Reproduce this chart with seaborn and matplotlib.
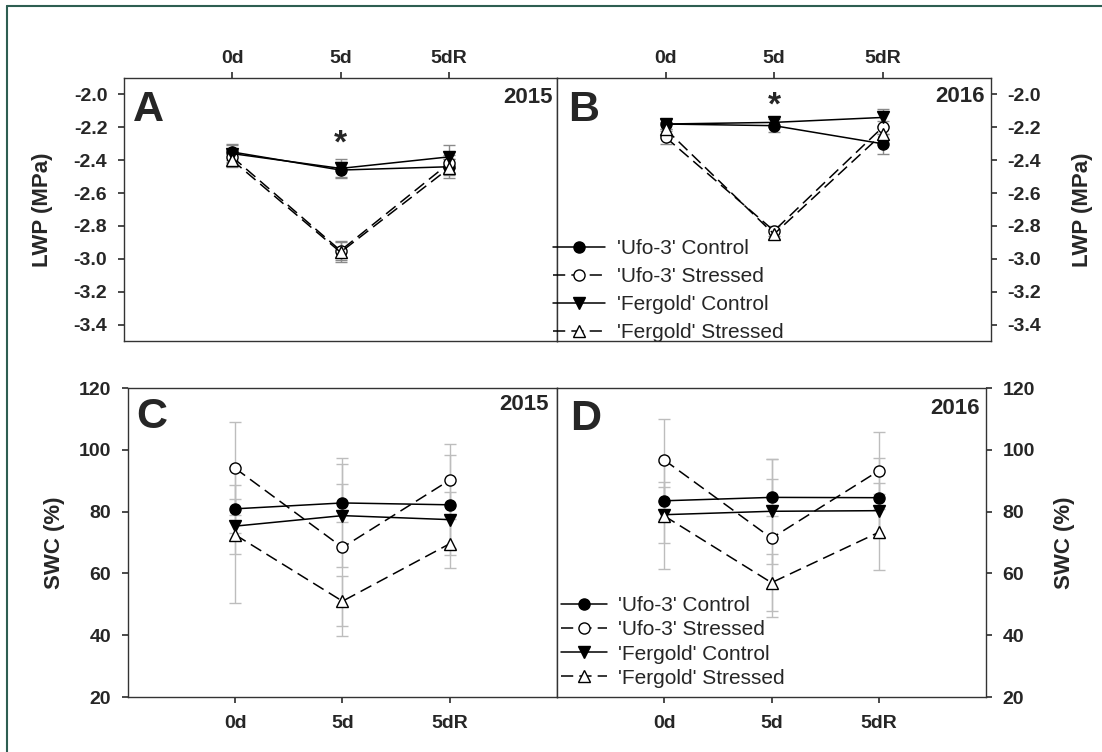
import numpy as np
import pandas as pd
import matplotlib
matplotlib.use("Agg")
import matplotlib.pyplot as plt
import seaborn as sns

# DATA
days = ["0d", "5d", "5dR"]
groups = ["'Ufo-3' Control", "'Ufo-3' Stressed", "'Fergold' Control", "'Fergold' Stressed"]

# leaf water potential (MPa)
lwp15_ufo_ctrl = [-2.35, -2.46, -2.44]
lwp15_ufo_str = [-2.38, -2.95, -2.42]
lwp15_fer_ctrl = [-2.36, -2.45, -2.38]
lwp15_fer_str = [-2.40, -2.96, -2.45]
lwp15_err = [[0.05, 0.05, 0.05], [0.04, 0.06, 0.05], [0.05, 0.055, 0.07], [0.04, 0.06, 0.06]]

lwp16_ufo_ctrl = [-2.18, -2.19, -2.30]
lwp16_ufo_str = [-2.26, -2.83, -2.20]
lwp16_fer_ctrl = [-2.18, -2.17, -2.14]
lwp16_fer_str = [-2.21, -2.85, -2.24]
lwp16_err = [[0.03, 0.04, 0.06], [0.04, 0.03, 0.04], [0.03, 0.03, 0.05], [0.04, 0.03, 0.04]]

# soil water content (%)
swc15_ufo_ctrl = [80.9, 82.8, 82.2]
swc15_ufo_str = [94.0, 68.4, 90.2]
swc15_fer_ctrl = [75.3, 78.7, 77.4]
swc15_fer_str = [72.5, 51.0, 69.6]
swc15_err = [[7.7, 6.1, 16.1], [15.0, 28.8, 11.6], [8.9, 16.7, 9.1], [22.0, 8.1, 8.0]]

swc16_ufo_ctrl = [83.5, 84.6, 84.5]
swc16_ufo_str = [96.7, 71.4, 93.2]
swc16_fer_ctrl = [79.0, 80.1, 80.3]
swc16_fer_str = [78.6, 57.0, 73.3]
swc16_err = [[6.0, 6.0, 12.8], [13.4, 25.6, 12.4], [9.0, 17.0, 9.0], [17.3, 9.2, 12.3]]

lwp_ticks = [-2.0, -2.2, -2.4, -2.6, -2.8, -3.0, -3.2, -3.4]
swc_ticks = [20, 40, 60, 80, 100, 120]

# STYLE
sns.set_theme(style="ticks")
plt.rcParams["font.family"] = ["Liberation Sans", "DejaVu Sans"]
plt.rcParams["axes.linewidth"] = 1.0
plt.rcParams["axes.edgecolor"] = "#333333"

markers = ["o", "o", "v", "^"]
faces = ["black", "white", "black", "white"]
dashed = [False, True, False, True]


def long_table(series, errs):
    rows = []
    for g, vals, e in zip(groups, series, errs):
        for i, d in enumerate(days):
            rows.append({"group": g, "day": d, "pos": i, "value": vals[i], "err": e[i]})
    return pd.DataFrame(rows)


def draw_panel(ax, df, bar_color):
    for k, g in enumerate(groups):
        sub = df[df["group"] == g]
        ax.errorbar(sub["pos"], sub["value"], yerr=sub["err"], fmt="none",
                    ecolor=bar_color, elinewidth=1, capsize=4, capthick=1, zorder=1)
    for k, g in enumerate(groups):
        sub = df[df["group"] == g]
        sns.lineplot(data=sub, x="pos", y="value", ax=ax, color="black",
                     linewidth=1.1, marker=markers[k], markersize=8,
                     markerfacecolor=faces[k], markeredgecolor="black", markeredgewidth=1,
                     linestyle=(0, (8, 4)) if dashed[k] else "-",
                     label=g, legend=False, zorder=3)
    ax.set_xlim(-1, 3)
    ax.set_xlabel("")
    ax.set_ylabel("")
    for s in ax.spines.values():
        s.set_visible(True)
        s.set_color("#333333")


fig = plt.figure(figsize=(11.02, 7.52), dpi=100)
W, H = 1102.0, 752.0
axA = fig.add_axes([124 / W, 1 - 341 / H, 433 / W, 263 / H])
axB = fig.add_axes([557 / W, 1 - 341 / H, 434 / W, 263 / H])
axC = fig.add_axes([128 / W, 1 - 697 / H, 429 / W, 309 / H])
axD = fig.add_axes([557 / W, 1 - 697 / H, 429 / W, 309 / H])

dfA = long_table([lwp15_ufo_ctrl, lwp15_ufo_str, lwp15_fer_ctrl, lwp15_fer_str], lwp15_err)
dfB = long_table([lwp16_ufo_ctrl, lwp16_ufo_str, lwp16_fer_ctrl, lwp16_fer_str], lwp16_err)
dfC = long_table([swc15_ufo_ctrl, swc15_ufo_str, swc15_fer_ctrl, swc15_fer_str], swc15_err)
dfD = long_table([swc16_ufo_ctrl, swc16_ufo_str, swc16_fer_ctrl, swc16_fer_str], swc16_err)

draw_panel(axA, dfA, "#8a8a8a")
draw_panel(axB, dfB, "#8a8a8a")
draw_panel(axC, dfC, "#bdbdbd")
draw_panel(axD, dfD, "#bdbdbd")

tick_font = dict(fontsize=14, fontweight="bold")

# LWP panels
for ax in (axA, axB):
    ax.set_ylim(-3.5, -1.9)
    ax.set_yticks(lwp_ticks)
    ax.set_yticklabels([f"{t:.1f}" for t in lwp_ticks], **tick_font)
    ax.xaxis.tick_top()
    ax.set_xticks(range(len(days)))
    ax.set_xticklabels(days, **tick_font)
    ax.tick_params(axis="x", direction="out", length=4, pad=4, top=True, bottom=False, color="#333333")
    ax.tick_params(axis="y", direction="out", length=4, pad=8, color="#333333")

# SWC panels
for ax in (axC, axD):
    ax.set_ylim(20, 120)
    ax.set_yticks(swc_ticks)
    ax.set_yticklabels([str(t) for t in swc_ticks], **tick_font)
    ax.set_xticks(range(len(days)))
    ax.set_xticklabels(days, **tick_font)
    ax.tick_params(axis="x", direction="out", length=4, pad=9, color="#333333")
    ax.tick_params(axis="y", direction="out", length=4, pad=8, color="#333333")

for ax in (axB, axD):
    ax.yaxis.tick_right()
    ax.yaxis.set_label_position("right")
    ax.tick_params(axis="y", left=False, right=True)

axA.tick_params(axis="y", right=False)
axC.tick_params(axis="y", right=False)

lab = dict(fontsize=16, fontweight="bold")
axA.set_ylabel("LWP (MPa)", labelpad=15, **lab)
axB.set_ylabel("LWP (MPa)", labelpad=22, **lab)
axC.set_ylabel("SWC (%)", labelpad=10, **lab)
axD.set_ylabel("SWC (%)", labelpad=14, **lab)

# panel letters and years
letter = dict(fontsize=31, fontweight="bold", va="center", ha="left")
year = dict(fontsize=16, fontweight="bold", va="center", ha="right")
axA.text(0.02, 0.88, "A", transform=axA.transAxes, **letter)
axB.text(0.025, 0.88, "B", transform=axB.transAxes, **letter)
axC.text(0.02, 0.905, "C", transform=axC.transAxes, **letter)
axD.text(0.03, 0.9, "D", transform=axD.transAxes, **letter)
axA.text(0.99, 0.925, "2015", transform=axA.transAxes, **year)
axB.text(0.985, 0.93, "2016", transform=axB.transAxes, **year)
axC.text(0.98, 0.945, "2015", transform=axC.transAxes, **year)
axD.text(0.985, 0.935, "2016", transform=axD.transAxes, **year)

# significance marks at 5d
axA.text(1, -2.30, "*", ha="center", va="center", fontsize=24, fontweight="bold")
axB.text(1, -2.07, "*", ha="center", va="center", fontsize=24, fontweight="bold")

# legends
h, l = axB.get_legend_handles_labels()
axB.legend(h, l, loc="lower left", bbox_to_anchor=(-0.01, -0.004), frameon=False,
           fontsize=15, handlelength=2.5, handletextpad=0.6, labelspacing=0.43,
           borderpad=0, borderaxespad=0)
h, l = axD.get_legend_handles_labels()
axD.legend(h, l, loc="lower left", bbox_to_anchor=(0.01, 0.03), frameon=False,
           fontsize=15, handlelength=2.2, handletextpad=0.5, labelspacing=0.25,
           borderpad=0, borderaxespad=0)

# outer frame (only top and left edges visible in the source)
fig.add_artist(plt.Line2D([7 / W, 7 / W], [0, 1 - 6 / H], color="#2e5e52", linewidth=1.5))
fig.add_artist(plt.Line2D([7 / W, 1], [1 - 6 / H, 1 - 6 / H], color="#2e5e52", linewidth=1.5))

fig.savefig("out.png", dpi=100)
